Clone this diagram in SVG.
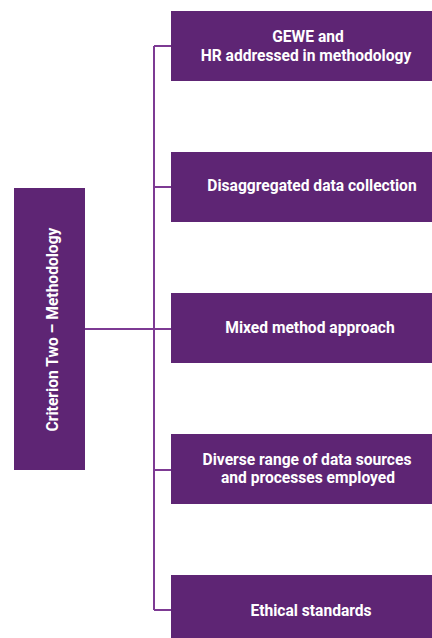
<svg xmlns="http://www.w3.org/2000/svg" width="432" height="638" viewBox="0 0 432 638">
<style>
.box{fill:#5E2574}
.t{fill:#ffffff;font-family:Roboto,"Liberation Sans",sans-serif;font-weight:bold;font-size:15.6px;text-anchor:middle}
.c{fill:none;stroke:#7D3A93;stroke-width:2}
</style>
<rect width="432" height="638" fill="#ffffff"/>
<g id="connectors">
<path class="c" d="M85 329H154M154 46V610M154 46H171M154 187H171M154 470H171M154 610H171M154 329H171"/>
</g>
<g id="root">
<rect class="box" x="14" y="188" width="71" height="282"/>
<text class="t" transform="translate(57.5 329.5) rotate(-90)">Criterion Two – Methodology</text>
</g>
<g id="n1">
<rect class="box" x="171" y="11" width="261" height="70"/>
<text class="t" x="308" y="42">GEWE and</text>
<text class="t" x="306" y="61">HR addressed in methodology</text>
</g>
<g id="n2">
<rect class="box" x="171" y="152" width="261" height="70"/>
<text class="t" x="312" y="191">Disaggregated data collection</text>
</g>
<g id="n3">
<rect class="box" x="171" y="293" width="261" height="70"/>
<text class="t" x="310" y="333">Mixed method approach</text>
</g>
<g id="n4">
<rect class="box" x="171" y="434" width="261" height="70"/>
<text class="t" x="307" y="465">Diverse range of data sources</text>
<text class="t" x="308" y="483">and processes employed</text>
</g>
<g id="n5">
<rect class="box" x="171" y="575" width="261" height="70"/>
<text class="t" x="311" y="616">Ethical standards</text>
</g>
</svg>
